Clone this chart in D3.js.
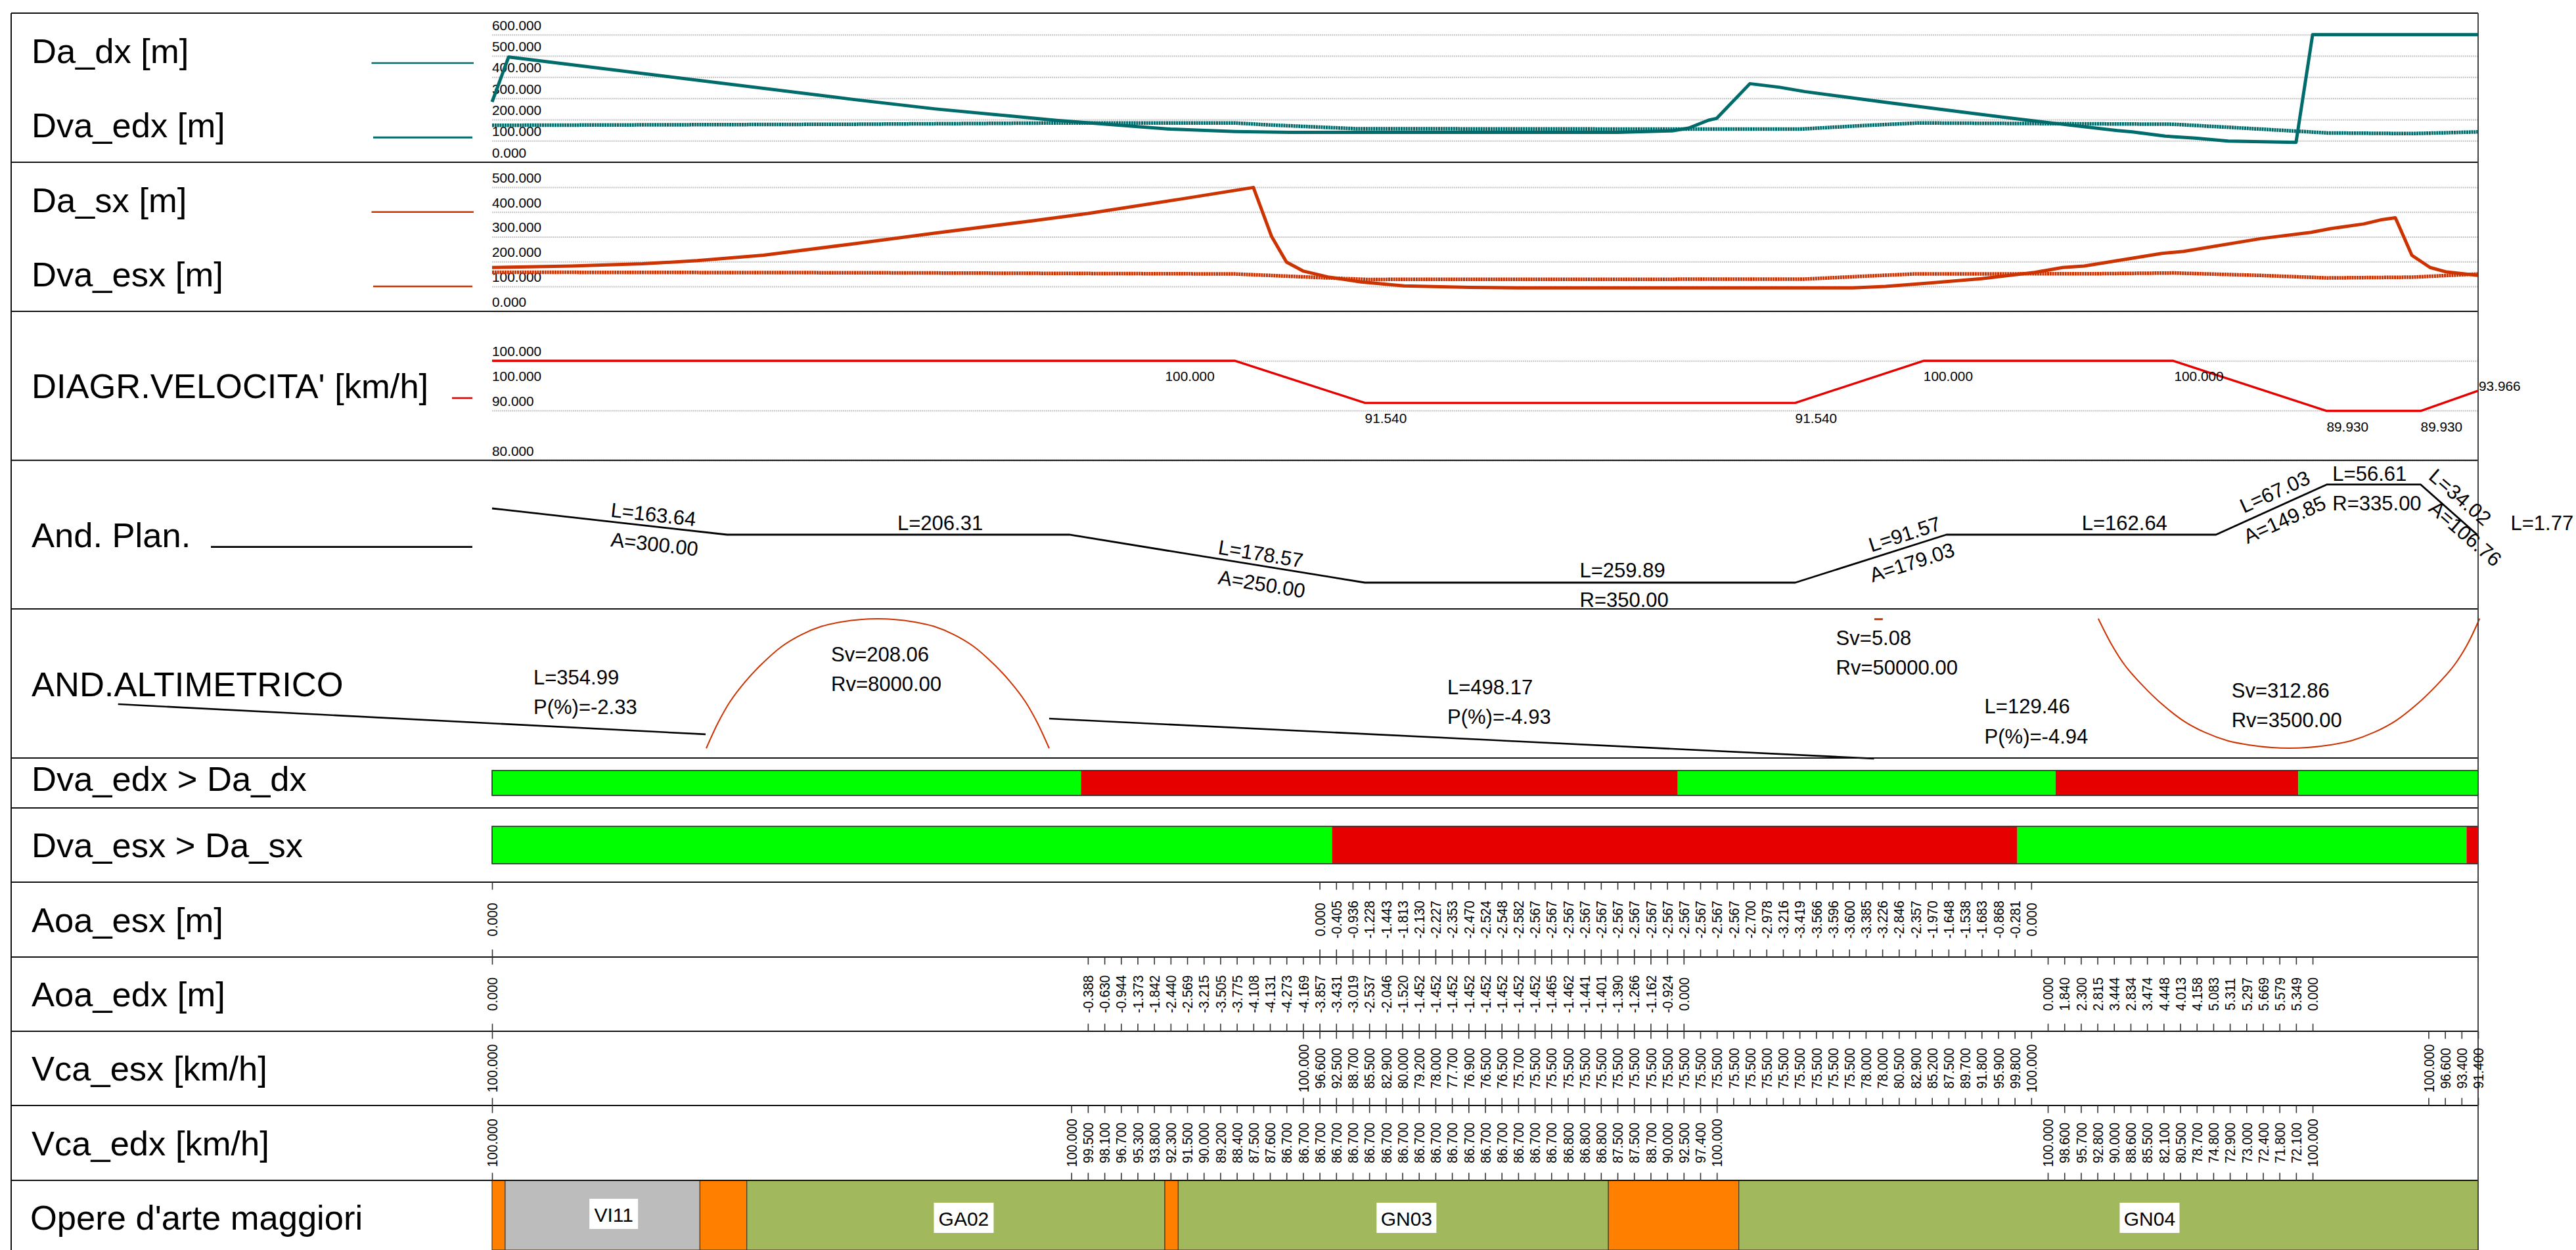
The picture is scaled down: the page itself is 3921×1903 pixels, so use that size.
<!DOCTYPE html>
<html>
<head>
<meta charset="utf-8">
<script src="https://cdn.jsdelivr.net/npm/d3@7"></script>
<style>
  html, body { margin: 0; padding: 0; background: #fff; }
  text { font-family: "Liberation Sans", Arial, sans-serif; fill: #000; }
</style>
</head>
<body>
<svg id="chart" width="3921" height="1903"></svg>
<script>
// ======= DATA (chainage in m) =======
const rowNames = ["Da_dx [m]", "Dva_edx [m]", "Da_sx [m]", "Dva_esx [m]", "DIAGR.VELOCITA' [km/h]", "And. Plan.", "AND.ALTIMETRICO",
  "Dva_edx > Da_dx", "Dva_esx > Da_sx", "Aoa_esx [m]", "Aoa_edx [m]", "Vca_esx [km/h]", "Vca_edx [km/h]", "Opere d'arte maggiori"];

const daDx = [[0,283],[10,495],[219,294],[268,250],[341,196],[410,155],[449,144],[482,140],[680,140],[713,147],[723,160],[735,197],[740,206],
  [760,369],[778,352],[793,332],[815,309],[842,281],[892,232],[929,196],[952,175],[982,148],[991,142],[1011,122],[1029,113],[1049,99],[1090,93],[1100,600],[1200,600]];
const dvaEdx = [[0,173],[219,178],[341,184],[449,184],[469,175],[522,157],[735,155],[790,155],[829,172],[862,184],[1016,178],[1069,155],[1109,137],[1160,134],[1200,142]];
const daSx = [[0,176],[48,182],[91,191],[124,204],[164,226],[219,272],[268,315],[327,365],[360,394],[416,452],[460,499],[471,301],[480,198],[490,162],
  [505,138],[525,118],[551,102],[591,96],[620,94],[822,94],[842,100],[869,114],[900,131],[932,156],[949,176],[962,182],[1009,233],[1022,241],[1069,293],
  [1099,318],[1111,333],[1131,352],[1141,368],[1150,377],[1160,225],[1171,176],[1181,158],[1200,144]];
const dvaEsx = [[0,157],[219,155],[449,150],[502,135],[528,128],[792,129],[829,141],[859,150],[969,151],[1016,154],[1069,144],[1109,134],[1160,137],[1200,150]];

const speed = [[0,100],[449,100],[527.4,91.54],[787.4,91.54],[864.9,100],[1015.8,100],[1108.5,89.93],[1165.3,89.93],[1200,93.966]];
const speedNotes = [["100.000",0,100,31],["100.000",406.7,100,31],["91.540",527.4,91.54,31],["91.540",787.4,91.54,31],["100.000",864.9,100,31],
  ["100.000",1016.4,100,31],["89.930",1108.5,89.93,31],["89.930",1165.3,89.93,31],["93.966",1200.4,93.966,-0]];

// curvature 1000/R
const plan = [[0,1.565],[142,0],[348.7,0],[527.4,-2.857],[787.4,-2.857],[878.7,0],[1041.6,0],[1108.5,2.985],[1165.3,2.985],[1200,-0.05]];

// relative level in the profile band, 0 = bottom of the row, 100 = top
const gradeOne = [[-226,36.1],[129,15.9]];
const gradeTwo = [[336.6,26.4],[835,-0.4]];
const crestOne = [[129.4,6.5],[136.7,24],[143.9,38],[153.2,51.5],[162.9,63],[175,74.8],[187,82.8],[199.1,88.3],[211.2,91.3],[223.4,93],[233,93.4],
  [242.6,93],[254.8,91.3],[266.9,88.3],[279,82.8],[291,74.8],[303.1,63],[312.8,51.5],[322.1,38],[329.3,24],[336.6,6.5]];
const crestTwo = [[835.2,93.1],[840.3,93.1]];
const sagOne = [[970.5,93.5],[978.6,76],[986.7,62],[997.4,48.5],[1008.1,37],[1021.6,25.2],[1034.9,17.2],[1048.4,11.7],[1061.9,8.7],[1075.3,7],[1086,6.6],
  [1096.8,7],[1110.2,8.7],[1123.6,11.7],[1137.1,17.2],[1150.5,25.2],[1164,37],[1174.7,48.5],[1185.4,62],[1193.4,76],[1200.9,93.5]];

const checkEdx = [[0,355.8,"ok"],[355.8,716.4,"no"],[716.4,944.7,"ok"],[944.7,1091.4,"no"],[1091.4,1200,"ok"]];
const checkEsx = [[0,507.5,"ok"],[507.5,921.6,"no"],[921.6,1193,"ok"],[1193,1200,"no"]];

const opere = [[0,7.9,"none"],[7.9,125.6,"VI"],[125.6,153.9,"none"],[153.9,406.5,"GA"],[406.5,414.6,"none"],[414.6,674.5,"GN"],[674.5,753.3,"none"],[753.3,1200,"GN"]];

// runs of readings every 10 m: [first chainage, labels]
const aoaEsx = [[0,["0.000"]],
  [500,["0.000","-0.405","-0.936","-1.228","-1.443","-1.813","-2.130","-2.227","-2.353","-2.470","-2.524","-2.548","-2.582",
    "-2.567","-2.567","-2.567","-2.567","-2.567","-2.567","-2.567","-2.567","-2.567","-2.567","-2.567","-2.567","-2.567",
    "-2.700","-2.978","-3.216","-3.419","-3.566","-3.596","-3.600","-3.385","-3.226","-2.846","-2.357","-1.970","-1.648","-1.538","-1.683","-0.868","-0.281","0.000"]]];
const aoaEdx = [[0,["0.000"]],
  [360,["-0.388","-0.630","-0.944","-1.373","-1.842","-2.440","-2.569","-3.215","-3.505","-3.775","-4.108","-4.131","-4.273","-4.169","-3.857","-3.431","-3.019","-2.537","-2.046","-1.520","-1.452","-1.452",
    "-1.452","-1.452","-1.452","-1.452","-1.452","-1.452","-1.465","-1.462","-1.441","-1.401","-1.390","-1.266","-1.162","-0.924","0.000"]],
  [940,["0.000","1.840","2.300","2.815","3.444","2.834","3.474","4.448","4.013","4.158","5.083","5.311","5.297","5.669","5.579","5.349","0.000"]]];
const vcaEsx = [[0,["100.000"]],
  [490,["100.000","96.600","92.500","88.700","85.500","82.900","80.000","79.200","78.000","77.700","76.900","76.500","76.500","75.700",
    "75.500","75.500","75.500","75.500","75.500","75.500","75.500","75.500","75.500","75.500","75.500","75.500","75.500","75.500","75.500","75.500","75.500","75.500","75.500",
    "75.500","78.000","78.000","80.500","82.900","85.200","87.500","89.700","91.800","95.900","99.800","100.000"]],
  [1170,["100.000","96.600","93.400","91.400"]]];
const vcaEdx = [[0,["100.000"]],
  [350,["100.000","99.500","98.100","96.700","95.300","93.800","92.300","91.500","90.000","89.200","88.400","87.500","87.600",
    "86.700","86.700","86.700","86.700","86.700","86.700","86.700","86.700","86.700","86.700",
    "86.700","86.700","86.700","86.700","86.700","86.700","86.700","86.800","86.800","86.800","87.500","87.500","88.700","90.000","92.500","97.400","100.000"]],
  [940,["100.000","98.600","95.700","92.800","90.000","88.600","85.500","82.100","80.500","78.700","74.800","72.900","73.000","72.400","71.800","72.100","100.000"]]];

// ======= LAYOUT =======
const svg = d3.select("#chart");
const left = 749, right = 3772, frameLeft = 17;
const rowLines = [20, 247, 474, 700.7, 927, 1154, 1230, 1343, 1457, 1570, 1683, 1797];

const x = d3.scaleLinear().domain([0, 1200]).range([left, right]);
const yDx = d3.scaleLinear().domain([0, 600]).range([246.7, 52.7]);
const ySx = d3.scaleLinear().domain([0, 500]).range([473.7, 285]);
const ySpeed = d3.scaleLinear().domain([80, 100]).range([700.7, 549.3]);
const yPlan = d3.scaleLinear().domain([-2.857, 2.985]).range([887, 737.7]);
const yLevel = d3.scaleLinear().domain([0, 100]).range([1154, 927]);

const TEAL = "#006b6b", ORANGE_RED = "#cc3300", RED = "#e60000", GREEN = "#00ff00";
const opereColor = { none: "#ff8000", VI: "#bcbcbc", GA: "#a2b85c", GN: "#a2b85c" };

function lineOf(y, curve) {
  return d3.line().x(d => x(d[0])).y(d => y(d[1])).curve(curve || d3.curveLinear);
}

function drawPath(points, gen, color, width, dash) {
  svg.append("path")
    .attr("d", gen(points))
    .attr("fill", "none")
    .attr("stroke", color)
    .attr("stroke-width", width)
    .attr("stroke-linejoin", "round")
    .attr("stroke-dasharray", dash || null);
}

// ======= GRIDS (axis with long ticks, labels sit above the line) =======
function grid(y, values) {
  const g = svg.append("g").attr("class", "grid")
    .call(d3.axisRight(y).tickValues(values).tickSize(right - left).tickFormat(d3.format(".3f")))
    .attr("transform", `translate(${left},0)`);
  g.select(".domain").remove();
  g.selectAll("line").attr("stroke", "#c8c8c8").attr("stroke-width", 2).attr("stroke-dasharray", "2,1");
  g.selectAll("text").attr("x", 0).attr("y", -7.5).attr("dy", 0)
    .attr("text-anchor", "start").style("font-size", "20.8px").style("font-family", "Liberation Sans");
}
grid(yDx, [0, 100, 200, 300, 400, 500, 600]);
grid(ySx, [0, 100, 200, 300, 400, 500]);
grid(ySpeed, [80, 90, 100]);

// ======= LINES =======
drawPath(dvaEdx, lineOf(yDx), TEAL, 5.5, "3,0.8");
drawPath(daDx, lineOf(yDx), TEAL, 5);
drawPath(dvaEsx, lineOf(ySx), ORANGE_RED, 5.5, "3,0.8");
drawPath(daSx, lineOf(ySx), ORANGE_RED, 5);
drawPath(speed, lineOf(ySpeed), RED, 3.4);
drawPath(plan, lineOf(yPlan), "#000", 2.8);
drawPath(gradeOne, lineOf(yLevel), "#000", 2.6);
drawPath(gradeTwo, lineOf(yLevel), "#000", 2.6);
drawPath(crestOne, lineOf(yLevel, d3.curveCatmullRom), ORANGE_RED, 2);
drawPath(crestTwo, lineOf(yLevel), ORANGE_RED, 3);
drawPath(sagOne, lineOf(yLevel, d3.curveCatmullRom), ORANGE_RED, 2);

speedNotes.forEach(([txt, s, v, off]) => {
  svg.append("text").attr("x", x(s)).attr("y", ySpeed(v) + off).style("font-size", "20.8px").text(txt);
});

// ======= CHECK BARS =======
function checkBar(rows, top, bottom) {
  svg.append("g").selectAll("rect").data(rows).enter().append("rect")
    .attr("x", d => x(d[0])).attr("y", top)
    .attr("width", d => x(d[1]) - x(d[0])).attr("height", bottom - top)
    .attr("fill", d => d[2] === "ok" ? GREEN : RED);
  svg.append("rect").attr("x", left).attr("y", top).attr("width", right - left).attr("height", bottom - top)
    .attr("fill", "none").attr("stroke", "#2a2a2a").attr("stroke-width", 1.6);
}
checkBar(checkEdx, 1173, 1211);
checkBar(checkEsx, 1258, 1315);

// ======= OPERE =======
svg.append("g").selectAll("rect").data(opere).enter().append("rect")
  .attr("x", d => x(d[0])).attr("y", 1797)
  .attr("width", d => x(d[1]) - x(d[0])).attr("height", 106)
  .attr("fill", d => opereColor[d[2]])
  .attr("stroke", "#4a3a20").attr("stroke-width", 1.2);

const opereNames = [["VI11", 73.5, 1825, 74], ["GA02", 285, 1831, 91], ["GN03", 552.5, 1831, 91], ["GN04", 1001.5, 1831, 91]];
opereNames.forEach(([name, s, top, w]) => {
  svg.append("rect").attr("x", x(s) - w / 2).attr("y", top).attr("width", w).attr("height", 46).attr("fill", "#fff");
  svg.append("text").attr("x", x(s)).attr("y", top + 35).attr("text-anchor", "middle").style("font-size", "30px").text(name);
});

// ======= FRAME =======
rowLines.forEach(y => {
  svg.append("line").attr("x1", frameLeft).attr("x2", right).attr("y1", y).attr("y2", y)
    .attr("stroke", "#111").attr("stroke-width", 2);
});
svg.append("line").attr("x1", frameLeft).attr("x2", frameLeft).attr("y1", 20).attr("y2", 1903).attr("stroke", "#111").attr("stroke-width", 2);
svg.append("line").attr("x1", right).attr("x2", right).attr("y1", 20).attr("y2", 1903).attr("stroke", "#444").attr("stroke-width", 2);

// ======= READINGS ROWS =======
function readings(runs, top, bottom) {
  const pairs = runs.flatMap(([start, labels]) => labels.map((l, i) => [start + i * 10, l]));
  const lookup = new Map(pairs);
  const stations = pairs.map(p => p[0]);

  const topAxis = svg.append("g").attr("class", "readings").attr("transform", `translate(0,${top})`)
    .call(d3.axisBottom(x).tickValues(stations).tickSize(11.5).tickFormat(s => lookup.get(s)));
  topAxis.select(".domain").remove();
  topAxis.selectAll("text")
    .attr("x", 0).attr("y", 0).attr("dy", "0.36em")
    .attr("text-anchor", "middle")
    .attr("transform", `translate(0,${(bottom - top) / 2}) rotate(-90) scale(0.95,1)`)
    .style("font-size", "21.4px").style("font-family", "Liberation Sans");

  const bottomAxis = svg.append("g").attr("class", "readings").attr("transform", `translate(0,${bottom})`)
    .call(d3.axisTop(x).tickValues(stations).tickSize(11.5).tickFormat(""));
  bottomAxis.select(".domain").remove();
}
readings(aoaEsx, 1343, 1457);
readings(aoaEdx, 1457, 1570);
readings(vcaEsx, 1570, 1683);
readings(vcaEdx, 1683, 1797);
svg.selectAll(".readings line").attr("stroke", "#333").attr("stroke-width", 1.6);

// ======= ROW NAMES AND LEGEND =======
const nameBase = [96, 209, 322.7, 435.7, 606, 832.7, 1060, 1204, 1305, 1418.5, 1532, 1645, 1759, 1872];
rowNames.forEach((n, i) => {
  svg.append("text").attr("x", i === 13 ? 46 : 48).attr("y", nameBase[i]).style("font-size", "52.5px").text(n);
});

const legendKeys = [[565.5, 721, 96, TEAL, 2.4], [568, 719, 209.3, TEAL, 3], [565.5, 721, 322.7, ORANGE_RED, 2.4], [568, 719, 436, ORANGE_RED, 2.4],
  [688, 719, 606, RED, 2.6], [321, 719, 832.7, "#000", 2.8]];
legendKeys.forEach(k => {
  svg.append("line").attr("x1", k[0]).attr("x2", k[1]).attr("y1", k[2]).attr("y2", k[2]).attr("stroke", k[3]).attr("stroke-width", k[4]);
});

// ======= ALIGNMENT AND PROFILE NOTES =======
const notes = [
  ["L=163.64", 928.7, 786.7, 6.4], ["A=300.00", 928.7, 831.7, 6.4], ["L=206.31", 1366, 806.7, 0],
  ["L=178.57", 1853, 843.3, 9.26], ["A=250.00", 1853, 889, 9.26], ["L=259.89", 2404.5, 879.3, 0], ["R=350.00", 2404.5, 924.3, 0],
  ["L=91.57", 2848.5, 840.7, -17.7], ["A=179.03", 2850, 886.7, -17.7], ["L=162.64", 3168.7, 806.7, 0],
  ["L=67.03", 3415.5, 781.7, -24.3], ["A=149.85", 3421, 828.3, -24.3], ["L=56.61", 3550.3, 731.7, 0], ["R=335.00", 3550.3, 776.7, 0],
  ["L=34.02", 3695, 728, 40.9], ["A=106.76", 3695, 776.7, 40.9], ["L=1.77", 3821.5, 806.7, 0],
  ["L=354.99", 812, 1042, 0], ["P(%)=-2.33", 812, 1087, 0], ["Sv=208.06", 1265, 1007, 0], ["Rv=8000.00", 1265, 1052, 0],
  ["L=498.17", 2203, 1057, 0], ["P(%)=-4.93", 2203, 1101.7, 0], ["Sv=5.08", 2794.6, 982, 0], ["Rv=50000.00", 2794.6, 1027, 0],
  ["L=129.46", 3020.6, 1086, 0], ["P(%)=-4.94", 3020.6, 1132, 0], ["Sv=312.86", 3396.7, 1062, 0], ["Rv=3500.00", 3396.7, 1107, 0]
];
notes.forEach(([txt, px, py, angle]) => {
  svg.append("text").attr("transform", `translate(${px},${py}) rotate(${angle})`).style("font-size", "31px").text(txt);
});
</script>
</body>
</html>
